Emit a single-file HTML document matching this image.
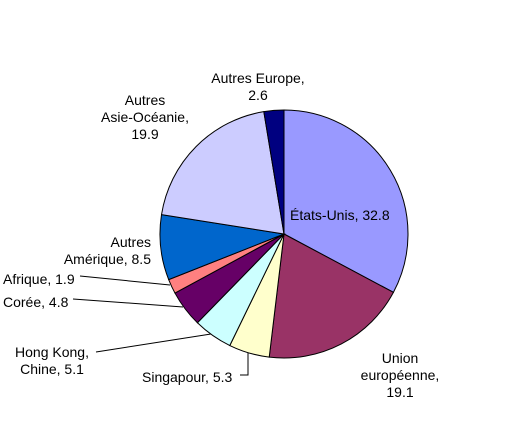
<!DOCTYPE html>
<html><head><meta charset="utf-8"><style>
body{margin:0;background:#fff}
svg text{font-family:"Liberation Sans",Arial,sans-serif;font-size:14px;fill:#000}
</style></head><body>
<svg id="chart" width="527" height="435" viewBox="0 0 527 435" xmlns="http://www.w3.org/2000/svg">
<g id="slices"></g>
<g id="labels">
<text x="258" y="83" text-anchor="middle"><tspan x="258">Autres Europe,</tspan><tspan x="258" dy="17">2.6</tspan></text>
<text x="145" y="105" text-anchor="middle"><tspan x="145">Autres</tspan><tspan x="145" dy="17">Asie-Océanie,</tspan><tspan x="145" dy="17">19.9</tspan></text>
<text x="290" y="220">États-Unis, 32.8</text>
<text x="400" y="363" text-anchor="middle"><tspan x="400">Union</tspan><tspan x="400" dy="17">européenne,</tspan><tspan x="400" dy="17">19.1</tspan></text>
<text x="142" y="382">Singapour, 5.3</text>
<text x="52" y="357" text-anchor="middle"><tspan x="52">Hong Kong,</tspan><tspan x="52" dy="17">Chine, 5.1</tspan></text>
<text x="3" y="307">Corée, 4.8</text>
<text x="3" y="284">Afrique, 1.9</text>
<text x="151" y="247" text-anchor="end"><tspan x="151">Autres</tspan><tspan x="151" dy="17">Amérique, 8.5</tspan></text>
</g>
<g id="leaders" stroke="#000" stroke-width="1" fill="none">
<polyline points="240,375 248,375 248,353"/>
<polyline points="96,352 211,334"/>
<polyline points="73,299 183,307"/>
<polyline points="80,276 170,285"/>
</g>
</svg>
<script>
const categories=["États-Unis","Union européenne","Singapour","Hong Kong, Chine","Corée","Afrique","Autres Amérique","Autres Asie-Océanie","Autres Europe"];
const values=[32.8,19.1,5.3,5.1,4.8,1.9,8.5,19.9,2.6];
const colors=["#9999FF","#993366","#FFFFCC","#CCFFFF","#660066","#FF8080","#0066CC","#CCCCFF","#000080"];
const cx=284,cy=234,r=124;
const g=document.getElementById('slices');
const total=values.reduce((a,b)=>a+b,0);
let a0=0;
values.forEach((v,i)=>{
  const a1=a0+v/total*2*Math.PI;
  const x0=cx+r*Math.sin(a0),y0=cy-r*Math.cos(a0);
  const x1=cx+r*Math.sin(a1),y1=cy-r*Math.cos(a1);
  const large=(a1-a0)>Math.PI?1:0;
  const p=document.createElementNS('http://www.w3.org/2000/svg','path');
  p.setAttribute('d',`M${cx},${cy}L${x0},${y0}A${r},${r} 0 ${large} 1 ${x1},${y1}Z`);
  p.setAttribute('fill',colors[i]);
  p.setAttribute('stroke','#000');
  p.setAttribute('stroke-width','1');
  
  
  g.appendChild(p);
  a0=a1;
});
</script>
</body></html>
